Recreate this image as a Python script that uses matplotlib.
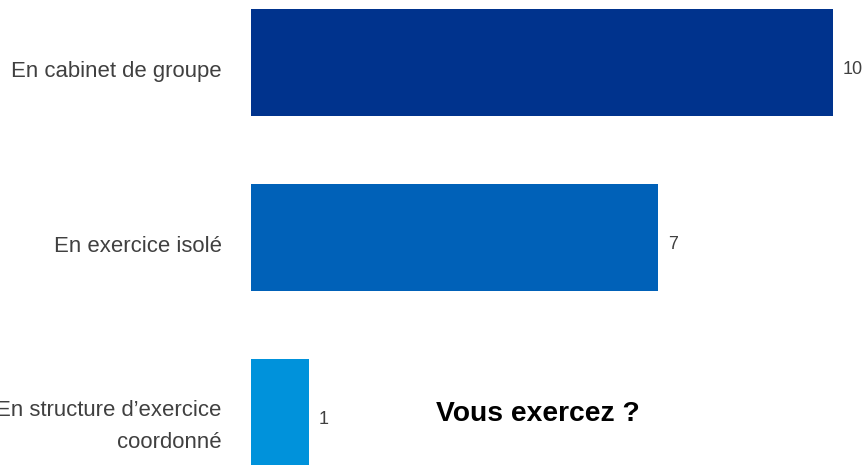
import matplotlib.pyplot as plt

plt.rcParams['font.family'] = ['Liberation Sans', 'DejaVu Sans']

categories = ["En cabinet de groupe", "En exercice isolé", "En structure d\u2019exercice\ncoordonné"]
counts = [10, 7, 1]
colors = ['#00338D', '#0061B8', '#0092DB']
TEXT_GREY = '#404040'

fig = plt.figure(figsize=(8.66, 4.65), dpi=100)
ax = fig.add_axes([251 / 866, 0, 615 / 866, 1])

ypos = list(range(len(categories)))
ax.barh(ypos, counts, height=0.61, color=colors)

ax.set_xlim(0, 10.567)
ax.set_ylim(2.3, -0.357)

for y, v in zip(ypos, counts):
    ax.text(v + 0.17, y + 0.04, str(v), va='center', ha='left', fontsize=13, color=TEXT_GREY)

# category labels sit slightly below the bar centres
ax.set_yticks([y + 0.035 for y in ypos])
ax.set_yticklabels(categories, fontsize=15.9, color=TEXT_GREY, linespacing=1.65)
ax.tick_params(axis='y', length=0, pad=21)
for lbl in ax.get_yticklabels():
    lbl.set_horizontalalignment('right')
ax.set_xticks([])
for s in ax.spines.values():
    s.set_visible(False)

fig.text(538 / 866, 1 - 414 / 465, "Vous exercez ?", ha='center', va='center',
         fontsize=20.3, fontweight='bold', color='black')

fig.savefig('out.png', dpi=100)
